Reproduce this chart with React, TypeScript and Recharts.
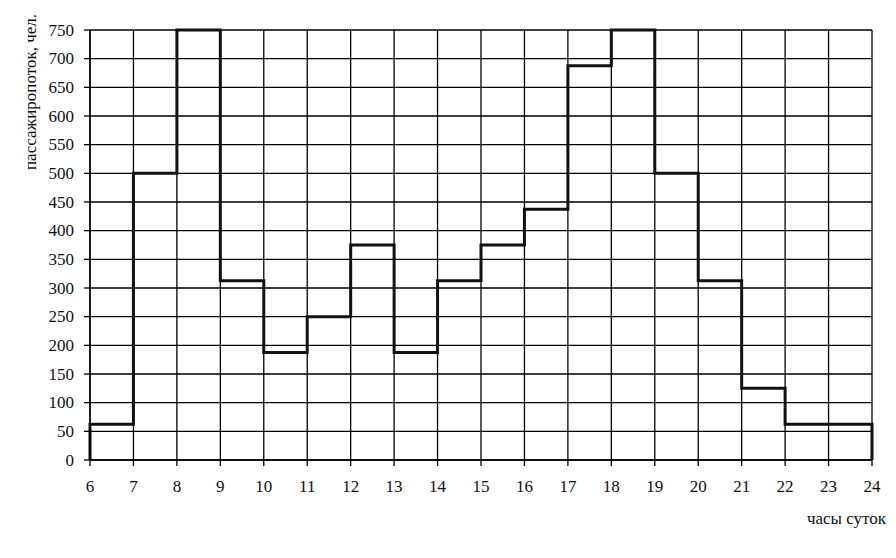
import React from 'react';
import { LineChart, Line, XAxis, YAxis, CartesianGrid, Label } from 'recharts';

// hour at the start of each interval and passenger flow during it
const hours = [6, 7, 8, 9, 10, 11, 12, 13, 14, 15, 16, 17, 18, 19, 20, 21, 22, 23];
const passengers = [62.5, 500, 750, 312.5, 187.5, 250, 375, 187.5, 312.5, 375, 437.5, 687.5, 750, 500, 312.5, 125, 62.5, 62.5];
const endHour = 24;

const xTicks = [6, 7, 8, 9, 10, 11, 12, 13, 14, 15, 16, 17, 18, 19, 20, 21, 22, 23, 24];
const yTicks = [0, 50, 100, 150, 200, 250, 300, 350, 400, 450, 500, 550, 600, 650, 700, 750];

// step line closes down to zero on both ends
const data = [
  { hour: hours[0], value: 0 },
  ...hours.map((h, i) => ({ hour: h, value: passengers[i] })),
  { hour: endHour, value: passengers[passengers.length - 1] },
  { hour: endHour, value: 0 },
];

const font = '"Liberation Serif", "Times New Roman", serif';
const textStyle = { fontFamily: font, fontSize: 17, fill: '#111' };

const XTick = ({ x, y, payload }: any) => (
  <text x={x} y={y + 12} textAnchor="middle" dominantBaseline="hanging" style={textStyle}>
    {payload.value}
  </text>
);

const YTick = ({ x, y, payload }: any) => (
  <text x={x - 8} y={y} textAnchor="end" dominantBaseline="central" style={textStyle}>
    {payload.value}
  </text>
);

const YTitle = (props: any) => {
  const { viewBox } = props;
  return (
    <text
      x={30}
      y={viewBox.y + 62}
      transform={`rotate(-90 30 ${viewBox.y + 62})`}
      textAnchor="middle"
      dominantBaseline="central"
      style={textStyle}
    >
      пассажиропоток, чел.
    </text>
  );
};

const XTitle = () => (
  <text x={886} y={524} textAnchor="end" style={textStyle}>
    часы суток
  </text>
);

export default function App() {
  return (
    <div style={{ position: 'absolute', left: 0, top: 0, width: 896, height: 558, background: '#fff' }}>
      <LineChart width={896} height={558} data={data} margin={{ top: 30, right: 24, left: 0, bottom: 58 }}>
        <CartesianGrid stroke="#000" strokeWidth={1.3} />
        <XAxis
          dataKey="hour"
          type="number"
          domain={[6, 24]}
          ticks={xTicks}
          interval={0}
          height={40}
          tick={<XTick />}
          tickSize={6}
          axisLine={{ stroke: '#000', strokeWidth: 1.3 }}
          tickLine={{ stroke: '#000', strokeWidth: 1.3 }}
        >
          <Label content={<XTitle />} />
        </XAxis>
        <YAxis
          type="number"
          domain={[0, 750]}
          ticks={yTicks}
          interval={0}
          width={90}
          tick={<YTick />}
          tickSize={6}
          axisLine={{ stroke: '#000', strokeWidth: 1.3 }}
          tickLine={{ stroke: '#000', strokeWidth: 1.3 }}
        >
          <Label content={<YTitle />} />
        </YAxis>
        <Line
          type="stepAfter"
          dataKey="value"
          stroke="#111"
          strokeWidth={3}
          dot={false}
          isAnimationActive={false}
        />
      </LineChart>
    </div>
  );
}
